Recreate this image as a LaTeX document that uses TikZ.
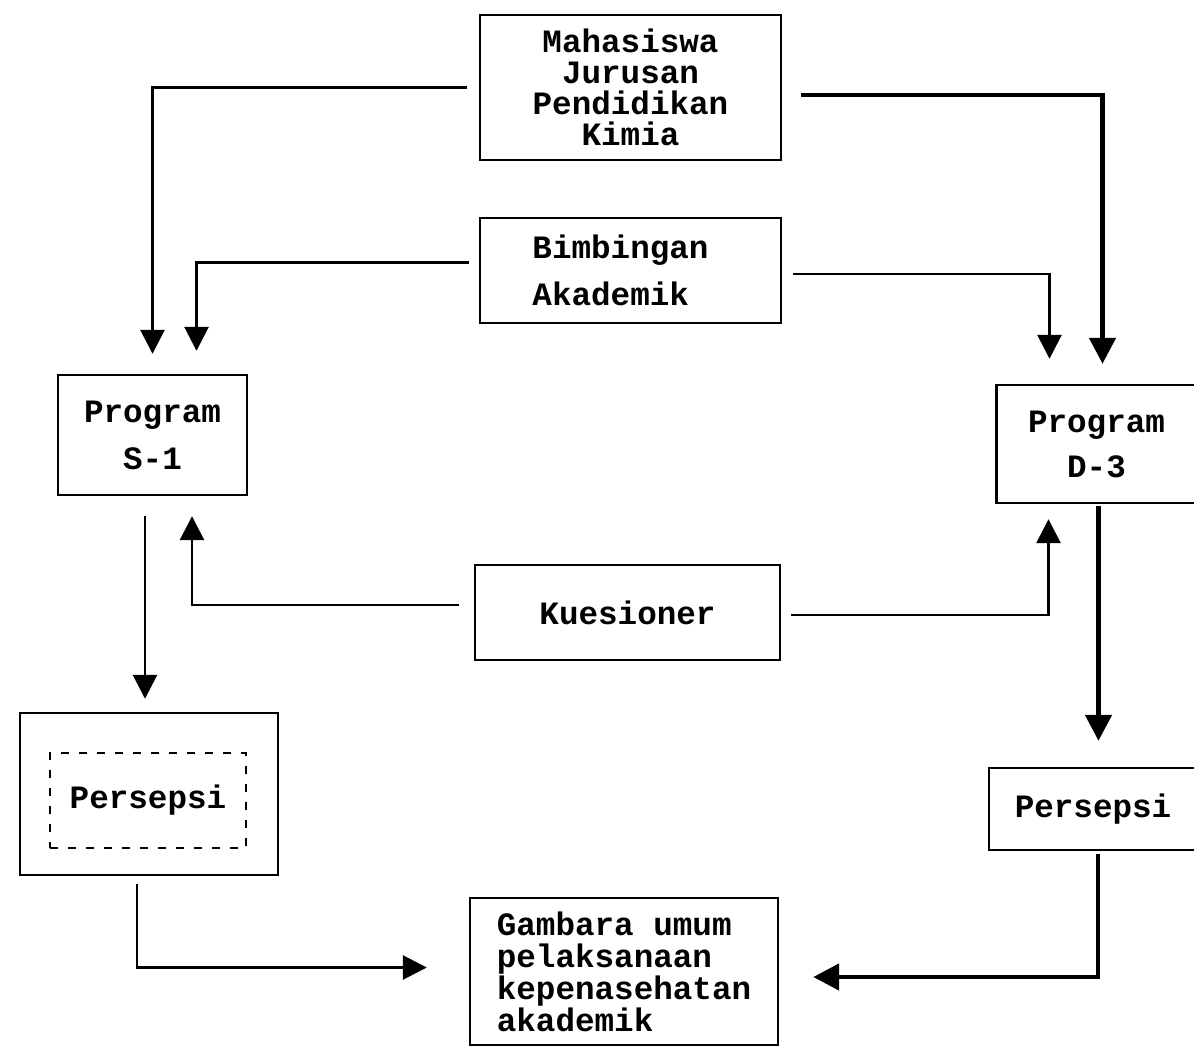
\documentclass[tikz,border=0pt]{standalone}
\usepackage{fontspec}
\setmonofont{Liberation Mono}
\usetikzlibrary{arrows.meta,calc}
\lineskiplimit=-100pt
\tikzset{
  box/.style={draw, line width=1.2pt, inner sep=0pt, align=center,
    font=\ttfamily\bfseries\fontsize{16.3pt}{15.5pt}\selectfont},
  conn/.style={line width=1.4pt, -{Triangle[length=12pt,width=12pt]}},
  thick conn/.style={line width=2.4pt, -{Triangle[length=13pt,width=13pt]}},
  inner dash/.style={draw, line width=0.8pt, dash pattern=on 4pt off 5pt, inner sep=0pt}
}
\begin{document}
\begin{tikzpicture}[x=0.5pt,y=-0.5pt]
\clip (0,0) rectangle (1194,1053);
\fill[white] (0,0) rectangle (1194,1053);

% boxes
\node[box, minimum width=150.5pt, minimum height=72.5pt] (mah) at (630.5,87.5)
  {Mahasiswa\\Jurusan\\Pendidikan\\Kimia};
\node[box, minimum width=150.5pt, minimum height=52.5pt,
  font=\ttfamily\bfseries\fontsize{16.3pt}{23.5pt}\selectfont, align=left] (bim) at (630.5,270.5)
  {\hspace*{-10pt}Bimbingan\\\hspace*{-10pt}Akademik};
\node[box, minimum width=152.5pt, minimum height=47.5pt] (kue) at (627.5,612.5) {Kuesioner};
\node[box, minimum width=94.5pt, minimum height=60pt,
  font=\ttfamily\bfseries\fontsize{16.3pt}{23.5pt}\selectfont] (s1) at (152.5,435) {Program\\S-1};
\node[box, minimum width=100pt, minimum height=59pt,
  font=\ttfamily\bfseries\fontsize{16.3pt}{22.5pt}\selectfont] (d3) at (1096.5,444) {Program\\D-3};
\node[box, minimum width=129pt, minimum height=81pt] (p1) at (149,794) {};
\node[inner dash, minimum width=98pt, minimum height=47.5pt,
  font=\ttfamily\bfseries\fontsize{16.3pt}{15pt}\selectfont] (p1in) at (148,800.5) {Persepsi};
\node[box, minimum width=104pt, minimum height=41pt] (p2) at (1093,809) {Persepsi};
\node[box, minimum width=154pt, minimum height=73.5pt, align=left,
  font=\ttfamily\bfseries\fontsize{16.3pt}{16pt}\selectfont] (gam) at (624,971.5)
  {Gambara umum\\pelaksanaan\\kepenasehatan\\akademik};

% connector end points
\coordinate (c1s) at ([xshift=-6pt]mah.west);
\coordinate (c1e) at ([yshift=10pt]s1.north);
\coordinate (c2s) at ([xshift=9.5pt,yshift=-3.75pt]mah.east);
\coordinate (c2e) at ([xshift=3pt,yshift=10pt]d3.north);
\coordinate (c3s) at ([xshift=-5pt,yshift=4pt]bim.west);
\coordinate (c3e) at ([xshift=22pt,yshift=11.5pt]s1.north);
\coordinate (c4s) at ([xshift=5.5pt,yshift=-1.75pt]bim.east);
\coordinate (c4e) at ([xshift=-23.5pt,yshift=12.5pt]d3.north);
\coordinate (c5s) at ([xshift=-7.5pt,yshift=3.75pt]kue.west);
\coordinate (c5e) at ([xshift=19.75pt,yshift=-10pt]s1.south);
\coordinate (c6s) at ([xshift=5pt,yshift=-1.25pt]kue.east);
\coordinate (c6e) at ([xshift=-24pt,yshift=-7.5pt]d3.south);
\coordinate (c7s) at ([xshift=-3.75pt,yshift=-10pt]s1.south);
\coordinate (c7e) at ($(c7s |- p1.north)+(0,6.5pt)$);
\coordinate (c8s) at ([xshift=1pt,yshift=-1pt]d3.south);
\coordinate (c8e) at ($(c8s |- p2.north)+(0,13pt)$);
\coordinate (c9s) at ([xshift=-6pt,yshift=-4pt]p1.south);
\coordinate (c9e) at ([xshift=-21pt,yshift=2pt]gam.west);
\coordinate (c10s) at ([xshift=2.5pt,yshift=-1.5pt]p2.south);
\coordinate (c10e) at ([xshift=17pt,yshift=-2.75pt]gam.east);

% connectors
\draw[conn] (c1s) -| (c1e);
\draw[thick conn] (c2s) -| (c2e);
\draw[conn] (c3s) -| (c3e);
\draw[conn] (c4s) -| (c4e);
\draw[conn] (c5s) -| (c5e);
\draw[conn] (c6s) -| (c6e);
\draw[conn] (c7s) -- (c7e);
\draw[thick conn] (c8s) -- (c8e);
\draw[conn] (c9s) |- (c9e);
\draw[thick conn] (c10s) |- (c10e);
\end{tikzpicture}
\end{document}
